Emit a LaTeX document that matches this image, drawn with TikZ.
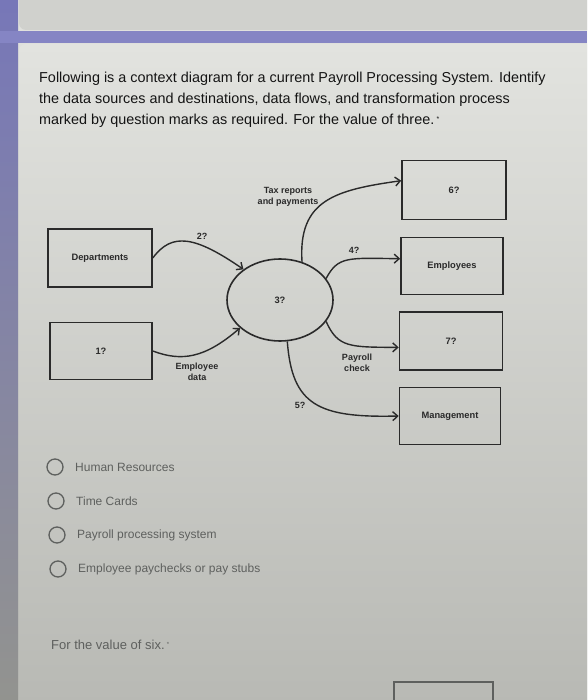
\documentclass[tikz,border=0pt]{standalone}
\usepackage{fontspec}
\setmainfont{Liberation Sans}
\usetikzlibrary{shapes.geometric,arrows.meta}

\definecolor{ink}{HTML}{2A2A2A}
\definecolor{optgrey}{HTML}{5E605E}
\definecolor{cardtop}{HTML}{E2E3DF}
\definecolor{cardbot}{HTML}{B7B8B3}
\definecolor{band}{HTML}{8585C4}
\definecolor{strip}{HTML}{7777B8}

\begin{document}
\begin{tikzpicture}[x=1pt,y=-1pt,
        entity/.style={draw=ink,line width=1.6pt,rectangle,minimum width=103pt,minimum height=58pt,
            inner sep=0pt,font=\bfseries\fontsize{9.3}{11}\selectfont,text=ink},
        process/.style={draw=ink,line width=1.6pt,ellipse,minimum width=106pt,minimum height=82pt,
            inner sep=0pt,font=\bfseries\fontsize{9.3}{11}\selectfont,text=ink},
        flow/.style={draw=ink,line width=1.4pt,-{Straight Barb[length=5pt,width=9pt]}},
        flowlabel/.style={font=\bfseries\fontsize{9}{10.5}\selectfont,align=center,inner sep=0pt,text=ink},
        question/.style={anchor=base west,inner sep=0pt,font=\fontsize{14.4}{17}\selectfont,text=black!92},
        radio/.style={draw=optgrey,line width=1.3pt,circle,minimum size=16pt,inner sep=0pt},
        choice/.style={anchor=west,inner sep=0pt,font=\fontsize{12}{14}\selectfont,text=optgrey}]

    \useasboundingbox (0,0) rectangle (587,700);
    \clip (0,0) rectangle (587,700);

    % screen
    \shade[top color=cardtop,bottom color=cardbot] (0,0) rectangle (587,700);
    \shade[top color=strip,bottom color=cardbot!80!black] (0,0) rectangle (18,700);
    \fill[band] (0,31) rectangle (587,43);
    \fill[cardtop!92!black,rounded corners=7pt] (19,-10) rectangle (600,30);
    \shade[top color=cardtop,bottom color=cardbot,rounded corners=7pt] (19,44) rectangle (600,720);

    % question
    \node[question] (line1) at (39,83) {Following is a context diagram for a current Payroll Processing System. Identify};
    \node[question] (line2) at (39,104) {the data sources and destinations, data flows, and transformation process};
    \node[question] (line3) at (39,125) {marked by question marks as required. For the value of three.\,\raisebox{3pt}{\fontsize{7}{8}\selectfont*}};

    % context diagram
    \node[entity,minimum width=104pt] (dept) at (100,258) {Departments};
    \node[entity,minimum width=102pt,minimum height=57pt] (src) at (101,351) {1?};
    \node[process] (proc) at (280,300) {3?};
    \node[entity,minimum width=104pt,minimum height=59pt] (tax) at (454,190) {6?};
    \node[entity,minimum width=102pt,minimum height=57pt] (emp) at (452,266) {Employees};
    \node[entity] (chk) at (451,341) {7?};
    \node[entity,minimum width=101pt,minimum height=57pt] (mgmt) at (450,416) {Management};

    \draw[flow] (dept.east) .. controls (172,232) and (195,236) .. (proc.140);
    \draw[flow] (src.east) .. controls (182,362) and (205,358) .. (proc.215);
    \draw[flow] (proc.60) .. controls (298,200) and (335,190) .. (tax.170);
    \draw[flow] (proc.25) .. controls (338,256) and (348,258) .. (emp.172);
    \draw[flow] (proc.-25) .. controls (338,348) and (350,347) .. (chk.187);
    \draw[flow] (proc.-80) .. controls (292,405) and (318,418) .. (mgmt.west);

    \node[flowlabel] (l2) at (202,236) {2?};
    \node[flowlabel] (ldata) at (197,372) {Employee\\data};
    \node[flowlabel] (ltax) at (288,197) {Tax reports\\and payments};
    \node[flowlabel] (l4) at (354,250) {4?};
    \node[flowlabel] (lcheck) at (357,363) {Payroll\\check};
    \node[flowlabel] (l5) at (300,405) {5?};

    % answers
    \node[radio] (r1) at (55,467) {};
    \node[radio] (r2) at (56,501) {};
    \node[radio] (r3) at (57,535) {};
    \node[radio] (r4) at (58,569) {};
    \node[choice] (c1) at (75,467) {Human Resources};
    \node[choice] (c2) at (76,501) {Time Cards};
    \node[choice] (c3) at (77,535) {Payroll processing system};
    \node[choice] (c4) at (78,569) {Employee paychecks or pay stubs};

    \node[choice,font=\fontsize{13}{15}\selectfont] (next) at (51,645) {For the value of six.\,\raisebox{3pt}{\fontsize{6}{7}\selectfont*}};
    \draw[optgrey,line width=1.3pt] (394,720) -- (394,682) -- (493,682) -- (493,720);

\end{tikzpicture}
\end{document}
